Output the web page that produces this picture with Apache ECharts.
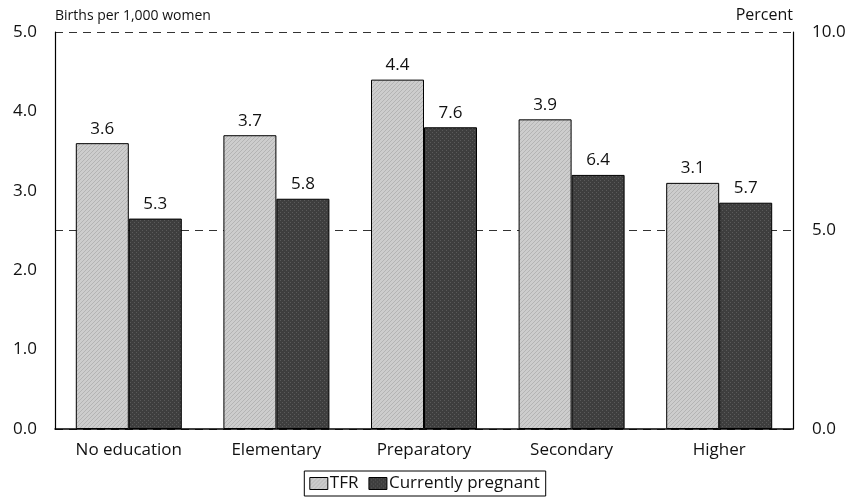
<!DOCTYPE html>
<html><head><meta charset="utf-8">
<script src="https://cdn.jsdelivr.net/npm/echarts@6/dist/echarts.min.js"></script>
<style>html,body{margin:0;padding:0;background:#fff}#c{width:849px;height:499px}</style>
</head><body><div id="c"></div>
<script>
var categories = ['No education', 'Elementary', 'Preparatory', 'Secondary', 'Higher'];
var tfr = [3.6, 3.7, 4.4, 3.9, 3.1];
var pregnant = [5.3, 5.8, 7.6, 6.4, 5.7];

function makePattern(bg, fg, kind) {
  var c = document.createElement('canvas');
  c.width = 4; c.height = 4;
  var g = c.getContext('2d');
  g.fillStyle = bg; g.fillRect(0, 0, 4, 4);
  g.fillStyle = fg;
  if (kind === 'diag') {
    for (var i = 0; i < 4; i++) g.fillRect(i, 3 - i, 1, 1);
  } else {
    g.fillRect(0, 0, 1, 1); g.fillRect(2, 2, 1, 1);
  }
  return c;
}
var lightPat = { image: makePattern('#cdcdcd', '#b4b4b4', 'diag'), repeat: 'repeat' };
var darkPat = { image: makePattern('#3e3e3e', '#5a5a5a', 'dot'), repeat: 'repeat' };

var font = '"Open Sans", Lato, sans-serif';
var fs = 17;
var chart = echarts.init(document.getElementById('c'));
chart.setOption({
  animation: false,
  textStyle: { fontFamily: font, color: '#111' },
  grid: { left: 55, right: 56, top: 32, bottom: 70 },
  legend: {
    top: 471, left: 'center', icon: 'rect',
    itemWidth: 18, itemHeight: 12, itemGap: 10,
    borderColor: '#000', borderWidth: 1, padding: [4, 6, 4, 5],
    textStyle: { fontSize: fs, color: '#111', fontFamily: font, padding: [0, 0, 0, -3] },
    data: [
      { name: 'TFR', itemStyle: { color: lightPat, borderColor: '#000', borderWidth: 1 } },
      { name: 'Currently pregnant', itemStyle: { color: darkPat, borderColor: '#000', borderWidth: 1 } }
    ]
  },
  xAxis: {
    type: 'category', data: categories,
    axisLine: { lineStyle: { color: '#000', width: 1.5 } },
    axisTick: { show: false },
    axisLabel: { fontSize: fs, color: '#111', margin: 13, fontFamily: font }
  },
  yAxis: [{
    type: 'value', min: 0, max: 5, interval: 1,
    name: 'Births per 1,000 women', nameLocation: 'end', nameGap: 9,
    nameTextStyle: { fontSize: 14, color: '#111', align: 'left', fontFamily: font },
    axisLine: { show: true, lineStyle: { color: '#000', width: 1.2 } },
    axisTick: { show: false },
    splitLine: { show: false },
    axisLabel: { fontSize: fs, color: '#111', margin: 18, formatter: function (v) { return v.toFixed(1); } }
  }, {
    type: 'value', min: 0, max: 10, interval: 5,
    name: 'Percent', nameLocation: 'end', nameGap: 9,
    nameTextStyle: { fontSize: 16, color: '#111', align: 'right', fontFamily: font },
    axisLine: { show: true, lineStyle: { color: '#000', width: 1.2 } },
    axisTick: { show: false },
    splitLine: { show: true, lineStyle: { color: '#333', type: [8, 6], width: 1 } },
    axisLabel: { fontSize: fs, color: '#111', margin: 19, formatter: function (v) { return v.toFixed(1); } }
  }],
  series: [{
    name: 'TFR', type: 'bar', data: tfr, yAxisIndex: 0,
    barWidth: 53, barGap: '0%',
    itemStyle: { color: lightPat, borderColor: '#000', borderWidth: 1 },
    label: { show: true, position: 'top', distance: 6, fontSize: fs, color: '#111', fontFamily: font,
      formatter: function (p) { return p.value.toFixed(1); } }
  }, {
    name: 'Currently pregnant', type: 'bar', data: pregnant, yAxisIndex: 1,
    barWidth: 53, barGap: '0%',
    itemStyle: { color: darkPat, borderColor: '#000', borderWidth: 1 },
    label: { show: true, position: 'top', distance: 6, fontSize: fs, color: '#111', fontFamily: font,
      formatter: function (p) { return p.value.toFixed(1); } }
  }]
});
</script></body></html>
